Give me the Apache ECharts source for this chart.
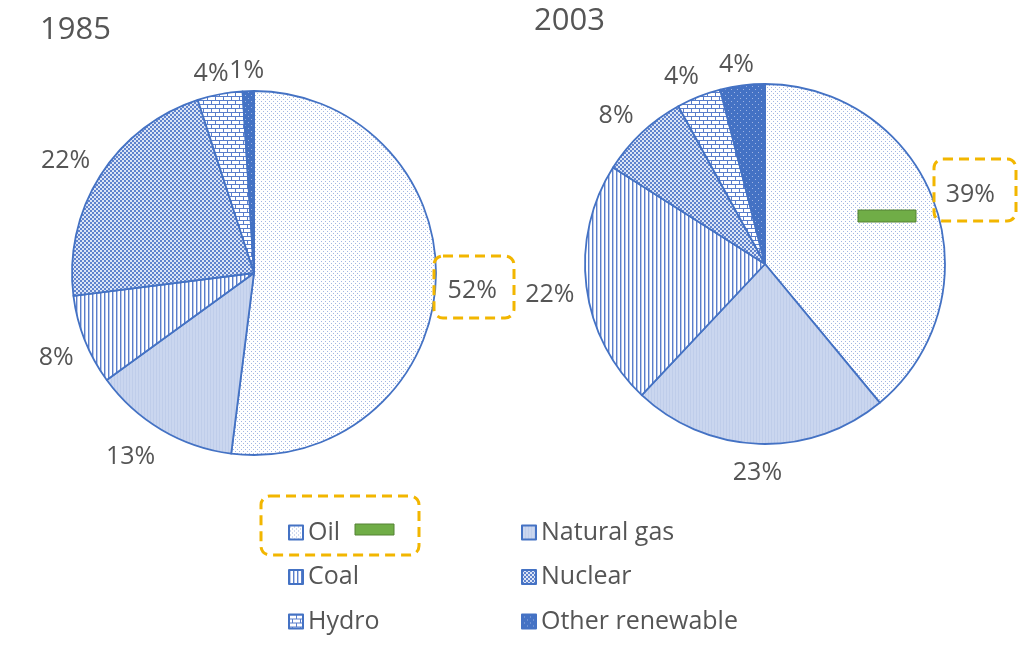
<!DOCTYPE html>
<html><head><meta charset="utf-8">
<script src="https://cdn.jsdelivr.net/npm/echarts@6/dist/echarts.min.js"></script>
<style>html,body{margin:0;padding:0;background:#fff}#c{width:1024px;height:659px}</style>
</head><body><div id="c"></div>
<script>
const categories = ['Oil','Natural gas','Coal','Nuclear','Hydro','Other renewable'];
const years = ['1985','2003'];
const values1985 = [52,13,8,22,4,1];
const values2003 = [39,23,22,8,4,4];
const legendCol1 = ['Oil','Coal','Hydro'];
const legendCol2 = ['Natural gas','Nuclear','Other renewable'];

const BLUE = '#4472c4';
const TXT = '#555555';
const FONT = '"Open Sans", "Liberation Sans", sans-serif';

function tile(w, h, draw){
  const c = document.createElement('canvas');
  c.width = w; c.height = h;
  const g = c.getContext('2d');
  draw(g, w, h);
  return {image: c, repeat: 'repeat'};
}
const patterns = [
  // Oil: light dots
  tile(4,4,(g)=>{g.fillStyle='#fff';g.fillRect(0,0,4,4);g.fillStyle='#a3b7e2';g.fillRect(1,1,1,1);g.fillRect(3,3,1,1);}),
  // Natural gas: light blue fine texture
  tile(3,3,(g)=>{g.fillStyle='#cad6ef';g.fillRect(0,0,3,3);g.fillStyle='#bfcdea';g.fillRect(0,0,1,3);}),
  // Coal: vertical lines
  tile(4,4,(g)=>{g.fillStyle='#fff';g.fillRect(0,0,4,4);g.fillStyle='#5a7ecb';g.fillRect(0,0,1,4);g.fillStyle='#b9c8ea';g.fillRect(1,0,1,4);}),
  // Nuclear: checker of blue and light squares
  tile(4,4,(g)=>{g.fillStyle='#dce5f6';g.fillRect(0,0,4,4);g.fillStyle='#5f83cd';g.fillRect(0,0,2,2);g.fillRect(2,2,2,2);}),
  // Hydro: bricks
  tile(8,8,(g)=>{g.fillStyle='#5a7ecb';g.fillRect(0,0,8,8);g.fillStyle='#fff';g.fillRect(0,1,7,3);g.fillRect(4,5,4,3);g.fillRect(0,5,3,3);}),
  // Other renewable: solid blue with light dots
  tile(6,6,(g)=>{g.fillStyle=BLUE;g.fillRect(0,0,6,6);g.fillStyle='#9fb5e4';g.fillRect(2,2,1,1);g.fillRect(5,5,1,1);})
];

const pies = [
  {center:[254,273], r:182, values: values1985},
  {center:[765,264], r:180, values: values2003}
];

function makeLayout(vals, geo){
  const total = vals.reduce((a,b)=>a+b,0);
  return function(p){
    let before = 0;
    for (let i=0;i<p.dataIndex;i++) before += vals[i];
    const theta = (before + vals[p.dataIndex]/2)/total*2*Math.PI;
    const dx = Math.sin(theta), dy = -Math.cos(theta);
    const R = geo.r + 12;
    const hw = p.labelRect.width/2, hh = p.labelRect.height/2;
    const cl = v => Math.max(-1, Math.min(1, v*2));
    return {
      x: geo.center[0] + R*dx + hw*cl(dx),
      y: geo.center[1] + R*dy + hh*cl(dy) + 4,
      align: 'center', verticalAlign: 'middle'
    };
  };
}

const series = pies.map((geo, si) => ({
  type: 'pie',
  name: years[si],
  center: geo.center,
  radius: geo.r,
  startAngle: 90,
  clockwise: true,
  avoidLabelOverlap: false,
  animation: false,
  silent: true,
  itemStyle: {borderColor: BLUE, borderWidth: 1.8},
  label: {show: true, position: 'outside', formatter: '{c}%', fontFamily: FONT, fontSize: 25, color: TXT},
  labelLine: {show: false, length: 12, length2: 0},
  labelLayout: makeLayout(geo.values, geo),
  data: categories.map((c, i) => ({name: c, value: geo.values[i], itemStyle: {color: patterns[i]}}))
}));

const legendBase = {
  orient: 'vertical', itemWidth: 14, itemHeight: 14, itemGap: 19.5,
  icon: 'rect', selectedMode: false,
  textStyle: {fontFamily: FONT, fontSize: 25, color: TXT, lineHeight: 24},
  top: 515
};

const chart = echarts.init(document.getElementById('c'), null, {renderer: 'canvas'});
chart.setOption({
  animation: false,
  backgroundColor: '#fff',
  title: [
    {text: years[0], left: 40, top: 15, padding: 0, textStyle: {fontFamily: FONT, fontSize: 31, fontWeight: 'normal', color: TXT}},
    {text: years[1], left: 534, top: 6, padding: 0, textStyle: {fontFamily: FONT, fontSize: 31, fontWeight: 'normal', color: TXT}}
  ],
  legend: [
    Object.assign({}, legendBase, {data: legendCol1, left: 283}),
    Object.assign({}, legendBase, {data: legendCol2, left: 516})
  ],
  series: series,
  graphic: [
    {type: 'rect', z: 100, shape: {x: 434, y: 256, width: 80, height: 62, r: 9},
     style: {fill: 'none', stroke: '#f2b600', lineWidth: 3, lineDash: [10, 6]}},
    {type: 'rect', z: 100, shape: {x: 934, y: 159, width: 82, height: 62, r: 9},
     style: {fill: 'none', stroke: '#f2b600', lineWidth: 3, lineDash: [10, 6]}},
    {type: 'rect', z: 100, shape: {x: 261, y: 496, width: 158, height: 59, r: 9},
     style: {fill: 'none', stroke: '#f2b600', lineWidth: 3, lineDash: [10, 6]}},
    {type: 'rect', z: 100, shape: {x: 355, y: 524, width: 39, height: 11},
     style: {fill: '#70ad47', stroke: '#548235', lineWidth: 1}},
    {type: 'rect', z: 100, shape: {x: 858, y: 210, width: 58, height: 12},
     style: {fill: '#70ad47', stroke: '#548235', lineWidth: 1}}
  ]
});
</script></body></html>
